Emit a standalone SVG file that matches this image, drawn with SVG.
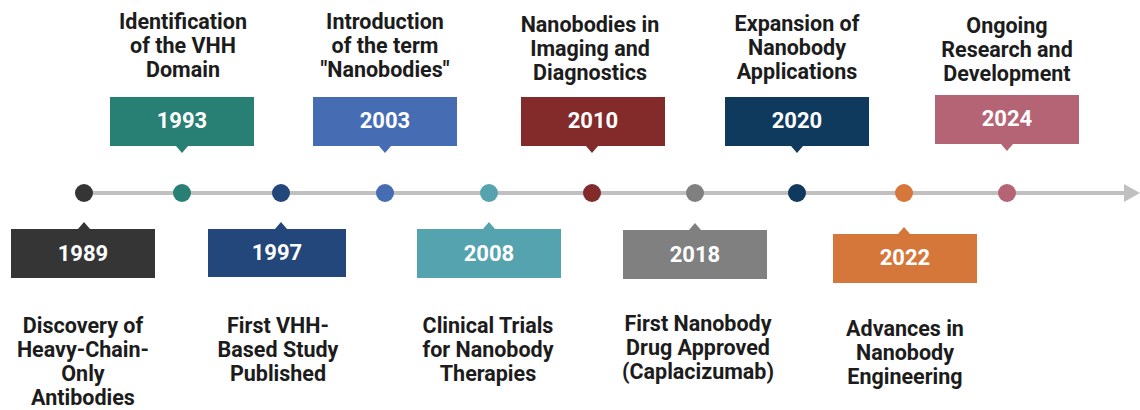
<svg xmlns="http://www.w3.org/2000/svg" width="1140" height="410" viewBox="0 0 1140 410">
  <style>
    .title { font-family: Roboto, "Liberation Sans", sans-serif; font-weight: bold; font-size: 21.5px; fill: #1c1c1c; text-anchor: middle; }
    .year { font-family: Roboto, "Liberation Sans", sans-serif; font-weight: bold; font-size: 22px; fill: #ffffff; text-anchor: middle; }
    .axis { stroke: #c0c0c0; stroke-width: 4; fill: none; }
  </style>
  <rect width="1140" height="410" fill="#ffffff"/>

  <!-- timeline axis -->
  <g id="connectors">
    <line class="axis" x1="84" y1="193" x2="1127" y2="193"/>
    <polygon points="1124,184 1140,193 1124,202" fill="#c0c0c0"/>
  </g>

  <!-- 1989 (below) -->
  <g id="node-1989">
    <circle cx="84" cy="193" r="9" fill="#353535"/>
    <path d="M11,229 H78 L84,222 L90,229 H155 V278 H11 Z" fill="#353535"/>
    <text class="year" x="83" y="261">1989</text>
    <text class="title" x="83" y="333">Discovery of</text>
    <text class="title" x="83" y="357">Heavy-Chain-</text>
    <text class="title" x="83" y="381">Only</text>
    <text class="title" x="83" y="405">Antibodies</text>
  </g>

  <!-- 1993 (above) -->
  <g id="node-1993">
    <circle cx="182" cy="193" r="9" fill="#278073"/>
    <path d="M110,97 H254 V146 H188 L182,153 L176,146 H110 Z" fill="#278073"/>
    <text class="year" x="182" y="128">1993</text>
    <text class="title" x="183" y="29">Identification</text>
    <text class="title" x="183" y="53">of the VHH</text>
    <text class="title" x="183" y="77">Domain</text>
  </g>

  <!-- 1997 (below) -->
  <g id="node-1997">
    <circle cx="281" cy="193" r="9" fill="#23477a"/>
    <path d="M208,229 H275 L281,222 L287,229 H346 V277 H208 Z" fill="#23477a"/>
    <text class="year" x="277" y="260">1997</text>
    <text class="title" x="278" y="333">First VHH-</text>
    <text class="title" x="278" y="357">Based Study</text>
    <text class="title" x="278" y="381">Published</text>
  </g>

  <!-- 2003 (above) -->
  <g id="node-2003">
    <circle cx="385" cy="193" r="9" fill="#466db3"/>
    <path d="M313,97 H457 V146 H391 L385,153 L379,146 H313 Z" fill="#466db3"/>
    <text class="year" x="385" y="128">2003</text>
    <text class="title" x="385" y="29">Introduction</text>
    <text class="title" x="385" y="53">of the term</text>
    <text class="title" x="385" y="77">"Nanobodies"</text>
  </g>

  <!-- 2008 (below) -->
  <g id="node-2008">
    <circle cx="489" cy="193" r="9" fill="#55a3ae"/>
    <path d="M417,229 H483 L489,222 L495,229 H561 V278 H417 Z" fill="#55a3ae"/>
    <text class="year" x="489" y="261">2008</text>
    <text class="title" x="488" y="333">Clinical Trials</text>
    <text class="title" x="488" y="357">for Nanobody</text>
    <text class="title" x="488" y="381">Therapies</text>
  </g>

  <!-- 2010 (above) -->
  <g id="node-2010">
    <circle cx="592" cy="193" r="9" fill="#832b2b"/>
    <path d="M521,97 H665 V146 H598 L592,153 L586,146 H521 Z" fill="#832b2b"/>
    <text class="year" x="593" y="128">2010</text>
    <text class="title" x="590" y="32">Nanobodies in</text>
    <text class="title" x="590" y="56">Imaging and</text>
    <text class="title" x="590" y="80">Diagnostics</text>
  </g>

  <!-- 2018 (below) -->
  <g id="node-2018">
    <circle cx="695" cy="193" r="9" fill="#808080"/>
    <path d="M623,230 H689 L695,223 L701,230 H767 V279 H623 Z" fill="#808080"/>
    <text class="year" x="695" y="262">2018</text>
    <text class="title" x="698" y="331">First Nanobody</text>
    <text class="title" x="698" y="355">Drug Approved</text>
    <text class="title" x="698" y="379">(Caplacizumab)</text>
  </g>

  <!-- 2020 (above) -->
  <g id="node-2020">
    <circle cx="797" cy="193" r="9" fill="#0f3a5e"/>
    <path d="M725,97 H869 V146 H803 L797,153 L791,146 H725 Z" fill="#0f3a5e"/>
    <text class="year" x="797" y="128">2020</text>
    <text class="title" x="797" y="31">Expansion of</text>
    <text class="title" x="797" y="55">Nanobody</text>
    <text class="title" x="797" y="79">Applications</text>
  </g>

  <!-- 2022 (below) -->
  <g id="node-2022">
    <circle cx="904" cy="193" r="9" fill="#d5763a"/>
    <path d="M833,234 H898 L904,227 L910,234 H977 V283 H833 Z" fill="#d5763a"/>
    <text class="year" x="905" y="265">2022</text>
    <text class="title" x="905" y="336">Advances in</text>
    <text class="title" x="905" y="360">Nanobody</text>
    <text class="title" x="905" y="384">Engineering</text>
  </g>

  <!-- 2024 (above) -->
  <g id="node-2024">
    <circle cx="1007" cy="193" r="9" fill="#b56475"/>
    <path d="M935,95 H1079 V144 H1013 L1007,151 L1001,144 H935 Z" fill="#b56475"/>
    <text class="year" x="1007" y="126">2024</text>
    <text class="title" x="1007" y="33">Ongoing</text>
    <text class="title" x="1007" y="57">Research and</text>
    <text class="title" x="1007" y="81">Development</text>
  </g>
</svg>
